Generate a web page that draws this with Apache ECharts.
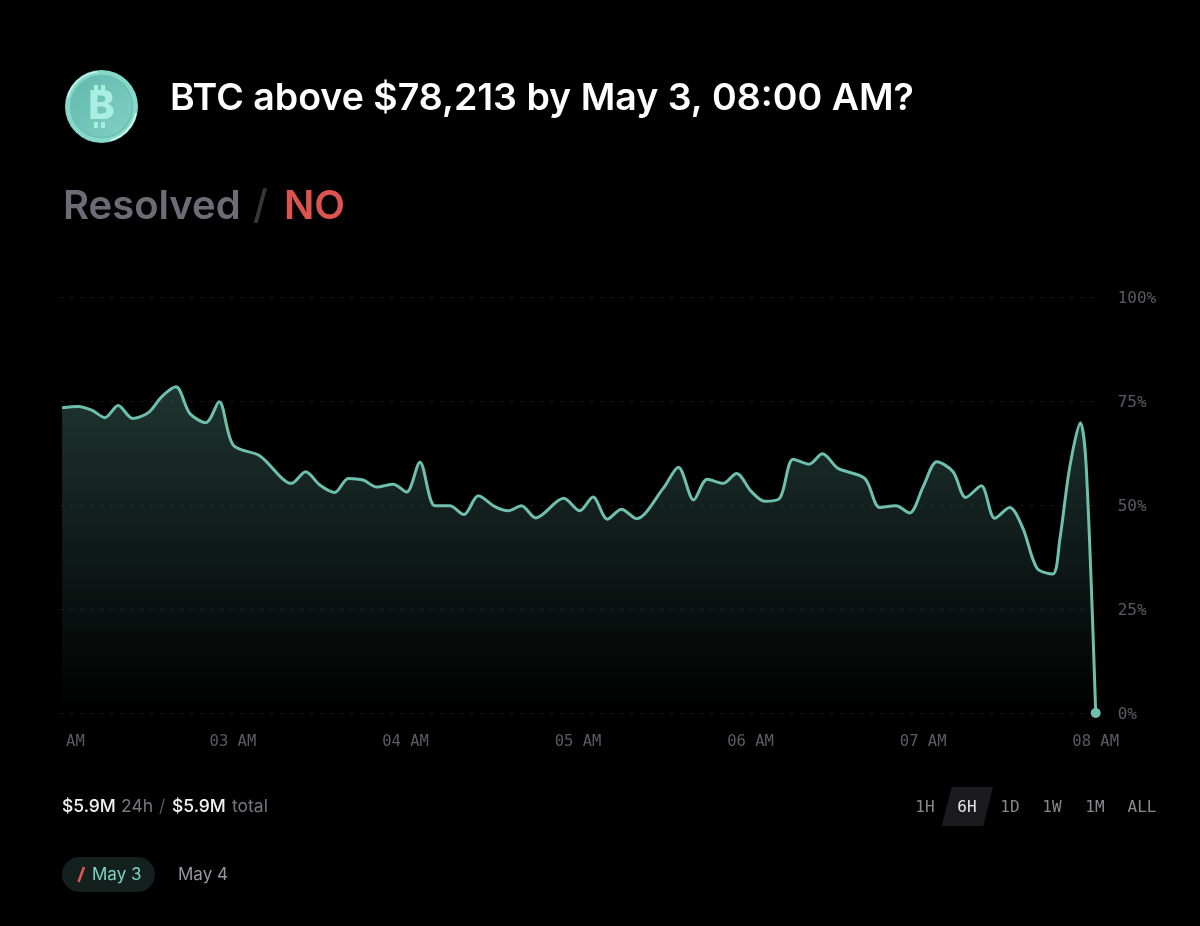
<!DOCTYPE html>
<html>
<head>
    <meta charset="utf-8">
    <script src="https://cdn.jsdelivr.net/npm/echarts@6/dist/echarts.min.js"></script>
</head>
<body style="margin: 0; background-color: #000">
<div id="main" style="width: 1200px; height: 926px;"></div>
<script type="text/javascript">
    // minutes after 02:00 AM
    var minutes = [0.6, 6.2, 10.9, 15.5, 20.1, 25.1, 30.6, 35.2, 40.2, 45, 50.6, 55.2, 60.1, 69.4, 80.4, 85.3,
        90.2, 95.4, 100.1, 105.3, 110, 115.7, 120.4, 125, 130.2, 135.4, 140.3, 145.3, 151.1, 155.7, 160.3, 165.3,
        175, 180.6, 185.2, 190.2, 195.1, 200.3, 209.6, 214.9, 220.2, 224.9, 230.4, 235.1, 240.3, 244.9, 250.1, 254.8,
        260.3, 265, 270.4, 279.7, 284.9, 290.5, 295.3, 300, 304.8, 310.4, 314.8, 320.2, 324.9, 330.1, 334.7, 339.6,
        345.1, 347.5, 351, 354.7, 356.7, 360];
    var percent = [73.4, 73.7, 72.8, 71, 73.9, 70.8, 72.2, 76, 78.4, 72, 69.8, 74.8, 64.4, 61.8, 55.2, 58,
        54.8, 53, 56.4, 56, 54.3, 55, 53.1, 60.3, 49.8, 49.8, 47.7, 52.2, 49.6, 48.6, 49.8, 46.9,
        51.6, 48.6, 51.9, 46.6, 49, 46.7, 54, 59.1, 51.2, 56.2, 55.2, 57.6, 53.2, 50.9, 51.6, 61,
        59.8, 62.3, 58.8, 56.4, 49.4, 49.8, 48.1, 54.4, 60.4, 58, 51.8, 54.6, 46.8, 49.4, 44.4, 34.8,
        33.4, 41.6, 59.2, 69.8, 59.2, 0];
    var hourLabels = ['AM', '03 AM', '04 AM', '05 AM', '06 AM', '07 AM', '08 AM'];
    var ranges = ['1H', '6H', '1D', '1W', '1M', 'ALL'];
    var rangeCenters = [925, 967, 1010, 1052, 1095, 1142];

    var teal = '#6fbfae';
    var tickGrey = '#5c5c60';
    var glyph = '#a9eee0';
    var mono = '"DejaVu Sans Mono", monospace';
    var sans = 'Inter, sans-serif';

    var points = minutes.map(function(m, i) { return [m, percent[i]]; });

    function label(x, y, text, size, color, weight, family) {
        return {
            type: 'text', x: x, y: y, z: 10,
            style: { text: text, fill: color, font: (weight || 400) + ' ' + size + 'px ' + (family || sans), textVerticalAlign: 'middle' }
        };
    }

    function coinTick(x, y) {
        return { type: 'rect', z: 8, shape: { x: x, y: y, width: 4, height: 6 }, style: { fill: glyph } };
    }

    var graphics = [
        // coin
        { type: 'circle', shape: { cx: 101.5, cy: 106.5, r: 36.5 }, z: 5, style: { fill: '#86d8c9' } },
        { type: 'circle', shape: { cx: 101.5, cy: 106.5, r: 31 }, z: 6, style: {
            fill: new echarts.graphic.LinearGradient(0, 0, 1, 1, [
                { offset: 0, color: '#62b8ac' }, { offset: 1, color: '#80d2c4' }
            ]), stroke: '#6cc0b3', lineWidth: 1.5 } },
        { type: 'arc', shape: { cx: 101.5, cy: 106.5, r: 35, startAngle: 0.2, endAngle: 1.3 }, z: 7, style: { stroke: '#d8fbf3', lineWidth: 1.5, fill: null } },
        { type: 'arc', shape: { cx: 101.5, cy: 106.5, r: 35, startAngle: 3.4, endAngle: 4.6 }, z: 7, style: { stroke: '#c8f5ec', lineWidth: 1.5, fill: null } },
        { type: 'text', x: 101.5, y: 106.5, z: 8, style: { text: 'B', fill: glyph, font: '800 40px Inter', textAlign: 'center', textVerticalAlign: 'middle' } },
        coinTick(94, 85), coinTick(101, 85), coinTick(94, 122), coinTick(101, 122),

        // resolved line
        label(63, 207, 'Resolved', 40, '#6b6c75', 600),
        label(253, 207, '/', 40, '#38383b', 500),
        label(284, 207, 'NO', 40, '#dd5350', 600),

        // volume
        label(62, 807, '$5.9M', 17.5, '#f2f2f2', 500),
        label(121, 807, '24h', 17.5, '#77777c'),
        label(159, 807, '/', 17.5, '#55555a'),
        label(172, 807, '$5.9M', 17.5, '#f2f2f2', 500),
        label(232, 807, 'total', 17.5, '#77777c'),

        // range selector
        { type: 'polygon', z: 5, shape: { points: [[941.7, 826], [951.7, 787], [993, 787], [983.3, 826]] }, style: { fill: '#1b1b1d' } },

        // date tabs
        { type: 'rect', z: 5, shape: { x: 62, y: 857, width: 93, height: 35, r: 17.5 }, style: { fill: '#13201e' } },
        { type: 'line', z: 6, shape: { x1: 84, y1: 867, x2: 78.5, y2: 882 }, style: { stroke: '#dd5350', lineWidth: 2.6 } },
        label(92, 875, 'May 3', 17, '#7dd3c0', 400),
        label(178, 875, 'May 4', 17, '#97979c', 400)
    ];

    ranges.forEach(function(r, i) {
        graphics.push({
            type: 'text', x: rangeCenters[i], y: 808, z: 10,
            style: { text: r, fill: r === '6H' ? '#e6e6e6' : '#88888b', font: '400 16px ' + mono, textAlign: 'center', textVerticalAlign: 'middle' }
        });
    });

    var myChart = echarts.init(document.getElementById('main'));
    var option = {
        backgroundColor: '#000',
        animation: false,
        title: {
            text: 'BTC above $78,213 by May 3, 08:00 AM?',
            left: 170, top: 80, padding: 0,
            textStyle: { color: '#fff', fontFamily: 'Inter', fontWeight: 600, fontSize: 37.5 }
        },
        grid: { left: 60.4, right: 104.3, top: 297, bottom: 213 },
        xAxis: {
            type: 'value', min: 0, max: 360, interval: 60,
            axisLine: { show: false }, axisTick: { show: false }, splitLine: { show: false },
            axisLabel: {
                margin: 21, color: tickGrey, fontFamily: mono, fontSize: 15.5,
                formatter: function(v) {
                    return v === 0 ? '{clip|' + hourLabels[0] + '}' : hourLabels[v / 60];
                },
                rich: { clip: { padding: [0, 0, 0, 30], color: tickGrey, fontFamily: mono, fontSize: 15.5 } }
            }
        },
        yAxis: {
            type: 'value', position: 'right', min: 0, max: 100, interval: 25,
            axisLine: { show: false }, axisTick: { show: false },
            splitLine: { lineStyle: { color: '#1c1c1c', type: [3, 7], width: 1 } },
            axisLabel: {
                margin: 22,
                formatter: function(v) { return '{p|' + v + '%}'; },
                rich: { p: { padding: [4, 0, 0, 0], color: tickGrey, fontFamily: mono, fontSize: 16 } }
            }
        },
        series: [{
            type: 'line', data: points, smooth: 0.3, showSymbol: false,
            lineStyle: { color: teal, width: 3 },
            areaStyle: {
                opacity: 1,
                color: new echarts.graphic.LinearGradient(0, 0, 0, 1, [
                    { offset: 0, color: 'rgba(111,191,174,0.27)' },
                    { offset: 1, color: 'rgba(111,191,174,0)' }
                ])
            }
        }, {
            type: 'scatter', data: [points[points.length - 1]], symbolSize: 10,
            itemStyle: { color: teal, opacity: 1 }, z: 5
        }],
        graphic: graphics
    };
    myChart.setOption(option);
</script>
</body>
</html>
